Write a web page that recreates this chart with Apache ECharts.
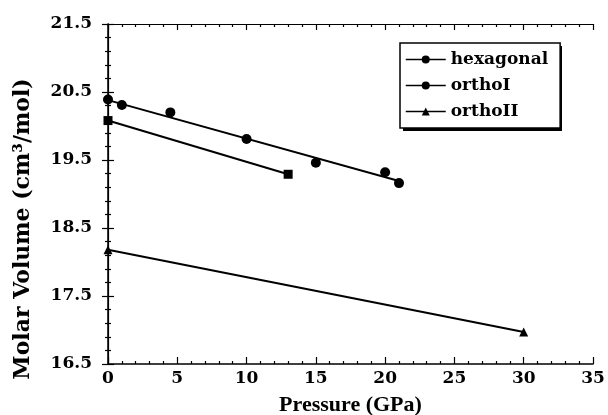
<!DOCTYPE html>
<html>
<head>
<meta charset="utf-8">
<title>Molar Volume vs Pressure</title>
<script src="https://cdn.jsdelivr.net/npm/echarts@6.0.0/dist/echarts.min.js"></script>
<style>
  html, body { margin: 0; padding: 0; background: #fff; }
  #main { width: 608px; height: 415px; }
</style>
</head>
<body>
<div id="main"></div>
<script>
// values
const hexX = [0, 1, 4.5, 10, 15, 20, 21];
const hexY = [20.39, 20.31, 20.2, 19.81, 19.46, 19.32, 19.16];
const hexFitX = [0, 21];
const hexFitY = [20.38, 19.19];
const orthoIX = [0, 13];
const orthoIY = [20.08, 19.29];
const orthoIIX = [0, 30];
const orthoIIY = [18.18, 16.97];

const serif = '"DejaVu Serif", serif';
const times = '"Liberation Serif", "Times New Roman", serif';

const myChart = echarts.init(document.getElementById('main'));

function pairs(xs, ys) {
    return xs.map((x, i) => [x, ys[i]]);
}

const tickStyle = { color: '#000', width: 1.2 };

const option = {
    backgroundColor: '#fff',
    animation: false,
    grid: { left: 108, right: 15, top: 24, bottom: 51, show: false, outerBoundsMode: 'none', containLabel: false },
    // legend drop shadow (solid, bottom-right)
    graphic: [{
        type: 'rect',
        left: 403,
        top: 46,
        z: 0,
        shape: { width: 159, height: 85 },
        style: { fill: '#000' }
    }],
    legend: {
        data: ['hexagonal', 'orthoI', 'orthoII'],
        orient: 'vertical',
        left: 400,
        top: 43,
        z: 5,
        padding: [8, 12, 8, 5],
        itemWidth: 40,
        itemHeight: 10,
        itemGap: 9,
        backgroundColor: '#fff',
        borderColor: '#000',
        borderWidth: 1.5,
        lineStyle: { color: '#000', width: 1.5, opacity: 1 },
        itemStyle: { color: '#000', opacity: 1 },
        textStyle: { fontFamily: serif, fontWeight: 'bold', fontSize: 17, color: '#000' }
    },
    xAxis: [{
        type: 'value',
        min: 0,
        max: 35,
        interval: 5,
        name: 'Pressure (GPa)',
        nameLocation: 'middle',
        nameGap: 30,
        nameTextStyle: { fontFamily: times, fontWeight: 'bold', fontSize: 22, color: '#000' },
        axisLine: { lineStyle: { color: '#000', width: 1.5 } },
        axisTick: { inside: true, length: 7, lineStyle: tickStyle },
        minorTick: { show: true, splitNumber: 5, length: 3, lineStyle: tickStyle },
        axisLabel: { margin: 6, fontFamily: serif, fontWeight: 'bold', fontSize: 17, color: '#000' },
        splitLine: { show: false }
    }, {
        type: 'value',
        position: 'top',
        min: 0,
        max: 35,
        interval: 5,
        axisLine: { lineStyle: { color: '#000', width: 1.2 } },
        axisTick: { inside: true, length: 6, lineStyle: tickStyle },
        minorTick: { show: true, splitNumber: 5, length: 3, lineStyle: tickStyle },
        axisLabel: { show: false },
        splitLine: { show: false }
    }],
    yAxis: [{
        type: 'value',
        min: 16.5,
        max: 21.5,
        interval: 1,
        name: 'Molar Volume (cm³/mol)',
        nameLocation: 'middle',
        nameRotate: 90,
        nameGap: 74,
        nameTextStyle: {
            fontFamily: serif, fontWeight: 'bold', fontSize: 22, color: '#000',
            padding: [0, 70, 0, 0]
        },
        axisLine: { lineStyle: { color: '#000', width: 1.5 } },
        axisTick: { inside: true, length: 6, lineStyle: tickStyle },
        minorTick: { show: true, splitNumber: 5, length: 3, lineStyle: tickStyle },
        axisLabel: { margin: 16, fontFamily: serif, fontWeight: 'bold', fontSize: 17, color: '#000' },
        splitLine: { show: false }
    }, {
        type: 'value',
        position: 'right',
        min: 16.5,
        max: 21.5,
        interval: 1,
        axisLine: { lineStyle: { color: '#000', width: 1.2 } },
        axisTick: { inside: true, length: 6, lineStyle: tickStyle },
        minorTick: { show: true, splitNumber: 5, length: 3, lineStyle: tickStyle },
        axisLabel: { show: false },
        splitLine: { show: false }
    }],
    series: [{
        name: 'hexagonal',
        type: 'line',
        data: pairs(hexX, hexY),
        symbol: 'circle',
        symbolSize: 10,
        clip: false,
        itemStyle: { color: '#000' },
        lineStyle: { opacity: 0 }
    }, {
        name: 'hexagonal fit',
        type: 'line',
        data: pairs(hexFitX, hexFitY),
        showSymbol: false,
        clip: false,
        lineStyle: { color: '#000', width: 2 }
    }, {
        name: 'orthoI',
        type: 'line',
        data: pairs(orthoIX, orthoIY).map(p => ({ value: p, symbol: 'rect' })),
        symbol: 'circle',
        symbolSize: 9,
        clip: false,
        itemStyle: { color: '#000' },
        lineStyle: { color: '#000', width: 2 }
    }, {
        name: 'orthoII',
        type: 'line',
        data: pairs(orthoIIX, orthoIIY),
        symbol: 'triangle',
        symbolSize: 9,
        clip: false,
        itemStyle: { color: '#000' },
        lineStyle: { color: '#000', width: 2 }
    }]
};
myChart.setOption(option);
</script>
</body>
</html>
